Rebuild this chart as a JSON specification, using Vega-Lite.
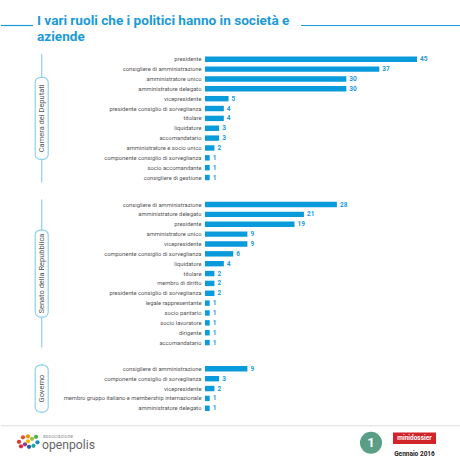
{
  "$schema": "https://vega.github.io/schema/vega-lite/v6.json",
  "background": "white",
  "padding": 0,
  "bounds": "flush",
  "config": {"view": {"stroke": null}},
  "datasets": {
    "camera": [
      {"ruolo": "presidente", "n": 45},
      {"ruolo": "consigliere di amministrazione", "n": 37},
      {"ruolo": "amministratore unico", "n": 30},
      {"ruolo": "amministratore delegato", "n": 30},
      {"ruolo": "vicepresidente", "n": 5},
      {"ruolo": "presidente consiglio di sorveglianza", "n": 4},
      {"ruolo": "titolare", "n": 4},
      {"ruolo": "liquidatore", "n": 3},
      {"ruolo": "accomandatario", "n": 3},
      {"ruolo": "amministratore e socio unico", "n": 2},
      {"ruolo": "componente consiglio di sorveglianza", "n": 1},
      {"ruolo": "socio accomandante", "n": 1},
      {"ruolo": "consigliere di gestione", "n": 1}
    ],
    "senato": [
      {"ruolo": "consigliere di amministrazione", "n": 28},
      {"ruolo": "amministratore delegato", "n": 21},
      {"ruolo": "presidente", "n": 19},
      {"ruolo": "amministratore unico", "n": 9},
      {"ruolo": "vicepresidente", "n": 9},
      {"ruolo": "componente consiglio di sorveglianza", "n": 6},
      {"ruolo": "liquidatore", "n": 4},
      {"ruolo": "titolare", "n": 2},
      {"ruolo": "membro di diritto", "n": 2},
      {"ruolo": "presidente consiglio di sorveglianza", "n": 2},
      {"ruolo": "legale rappresentante", "n": 1},
      {"ruolo": "socio paritario", "n": 1},
      {"ruolo": "socio lavoratore", "n": 1},
      {"ruolo": "dirigente", "n": 1},
      {"ruolo": "accomandatario", "n": 1}
    ],
    "governo": [
      {"ruolo": "consigliere di amministrazione", "n": 9},
      {"ruolo": "componente consiglio di sorveglianza", "n": 3},
      {"ruolo": "vicepresidente", "n": 2},
      {"ruolo": "membro gruppo italiano e membership internazionale", "n": 1},
      {"ruolo": "amministratore delegato", "n": 1}
    ]
  },
  "vconcat": [
    {
      "width": 460,
      "height": 37.8,
      "data": {"values": [{}]},
      "encoding": {
        "x": {"type": "quantitative", "scale": {"domain": [0, 460], "nice": false}, "axis": null},
        "y": {"type": "quantitative", "scale": {"domain": [0, 37.8], "reverse": true, "nice": false}, "axis": null}
      },
      "layer": [
        {"mark": {"type": "rule", "color": "#1b9ad8", "strokeWidth": 1.2}, "encoding": {"x": {"datum": 0}, "x2": {"datum": 32}, "y": {"datum": 25.5}}},
        {"mark": {"type": "rule", "color": "#1b9ad8", "strokeWidth": 1.2}, "encoding": {"x": {"datum": 300}, "x2": {"datum": 460}, "y": {"datum": 25.5}}},
        {"mark": {"type": "text", "text": "I vari ruoli che i politici hanno in società e", "align": "left", "baseline": "alphabetic", "font": "Roboto", "fontSize": 13.6, "fontWeight": "bold", "color": "#1b9ad8"}, "encoding": {"x": {"datum": 36}, "y": {"datum": 25}}},
        {"mark": {"type": "text", "text": "aziende", "align": "left", "baseline": "alphabetic", "font": "Roboto", "fontSize": 13.6, "fontWeight": "bold", "color": "#1b9ad8"}, "encoding": {"x": {"datum": 36}, "y": {"datum": 40.7}}}
      ]
    },
    {
      "width": 460,
      "height": {"step": 9.86},
      "layer": [
        {
          "data": {"values": [{}]},
          "mark": {"type": "rule", "color": "#8ed1f1", "strokeWidth": 1.2},
          "encoding": {"x": {"datum": -34.66, "type": "quantitative", "scale": {"domain": [-43.3, 54.34], "nice": false, "zero": false}, "axis": null}}
        },
        {
          "data": {"values": [{}]},
          "mark": {"type": "point", "shape": "M-0.1585,-0.878 A0.122,0.122 0 0 1 -0.0365,-1 L0.0365,-1 A0.122,0.122 0 0 1 0.1585,-0.878 L0.1585,0.878 A0.122,0.122 0 0 1 0.0365,1 L-0.0365,1 A0.122,0.122 0 0 1 -0.1585,0.878 Z", "size": 6724, "filled": true, "fill": "white", "stroke": "#8ed1f1", "strokeWidth": 1.2, "opacity": 1},
          "encoding": {"x": {"datum": -34.66, "type": "quantitative", "scale": {"domain": [-43.3, 54.34], "nice": false, "zero": false}, "axis": null}}
        },
        {
          "data": {"values": [{"gruppo": "Camera  dei Deputati"}]},
          "mark": {"type": "text", "angle": 270, "font": "Roboto", "fontSize": 7.5, "color": "#555555", "baseline": "middle"},
          "encoding": {
            "x": {"datum": -34.66, "type": "quantitative", "scale": {"domain": [-43.3, 54.34], "nice": false, "zero": false}, "axis": null},
            "text": {"field": "gruppo"}
          }
        },
        {
          "data": {"name": "camera"},
          "mark": {"type": "bar", "color": "#0a9bdc"},
          "encoding": {
            "y": {"field": "ruolo", "type": "nominal", "sort": null, "scale": {"paddingInner": 0.45}, "axis": {"title": null, "orient": "left", "offset": -204, "domain": false, "ticks": false, "labelPadding": 4, "labelFont": "Roboto", "labelFontSize": 5.8, "labelColor": "#555555", "labelLimit": 300}},
            "x": {"field": "n", "type": "quantitative", "scale": {"domain": [-43.3, 54.34], "nice": false, "zero": false}, "axis": null}
          }
        },
        {
          "data": {"name": "camera"},
          "mark": {"type": "text", "align": "left", "baseline": "middle", "dx": 3, "font": "Roboto", "fontSize": 6.5, "fontWeight": "bold", "color": "#1b9ad8"},
          "encoding": {
            "y": {"field": "ruolo", "type": "nominal", "sort": null},
            "x": {"field": "n", "type": "quantitative", "scale": {"domain": [-43.3, 54.34], "nice": false, "zero": false}, "axis": null},
            "text": {"field": "n", "type": "quantitative"}
          }
        }
      ]
    },
    {
      "width": 460,
      "height": {"step": 9.86},
      "layer": [
        {
          "data": {"values": [{}]},
          "mark": {"type": "rule", "color": "#8ed1f1", "strokeWidth": 1.2},
          "encoding": {"x": {"datum": -34.66, "type": "quantitative", "scale": {"domain": [-43.3, 54.34], "nice": false, "zero": false}, "axis": null}}
        },
        {
          "data": {"values": [{}]},
          "mark": {"type": "point", "shape": "M-0.1494,-0.885 A0.115,0.115 0 0 1 -0.0344,-1 L0.0344,-1 A0.115,0.115 0 0 1 0.1494,-0.885 L0.1494,0.885 A0.115,0.115 0 0 1 0.0344,1 L-0.0344,1 A0.115,0.115 0 0 1 -0.1494,0.885 Z", "size": 7569, "filled": true, "fill": "white", "stroke": "#8ed1f1", "strokeWidth": 1.2, "opacity": 1},
          "encoding": {"x": {"datum": -34.66, "type": "quantitative", "scale": {"domain": [-43.3, 54.34], "nice": false, "zero": false}, "axis": null}}
        },
        {
          "data": {"values": [{"gruppo": "Senato della Repubblica"}]},
          "mark": {"type": "text", "angle": 270, "font": "Roboto", "fontSize": 7.5, "color": "#555555", "baseline": "middle"},
          "encoding": {
            "x": {"datum": -34.66, "type": "quantitative", "scale": {"domain": [-43.3, 54.34], "nice": false, "zero": false}, "axis": null},
            "text": {"field": "gruppo"}
          }
        },
        {
          "data": {"name": "senato"},
          "mark": {"type": "bar", "color": "#0a9bdc"},
          "encoding": {
            "y": {"field": "ruolo", "type": "nominal", "sort": null, "scale": {"paddingInner": 0.45}, "axis": {"title": null, "orient": "left", "offset": -204, "domain": false, "ticks": false, "labelPadding": 4, "labelFont": "Roboto", "labelFontSize": 5.8, "labelColor": "#555555", "labelLimit": 300}},
            "x": {"field": "n", "type": "quantitative", "scale": {"domain": [-43.3, 54.34], "nice": false, "zero": false}, "axis": null}
          }
        },
        {
          "data": {"name": "senato"},
          "mark": {"type": "text", "align": "left", "baseline": "middle", "dx": 3, "font": "Roboto", "fontSize": 6.5, "fontWeight": "bold", "color": "#1b9ad8"},
          "encoding": {
            "y": {"field": "ruolo", "type": "nominal", "sort": null},
            "x": {"field": "n", "type": "quantitative", "scale": {"domain": [-43.3, 54.34], "nice": false, "zero": false}, "axis": null},
            "text": {"field": "n", "type": "quantitative"}
          }
        }
      ]
    },
    {
      "width": 460,
      "height": {"step": 9.86},
      "layer": [
        {
          "data": {"values": [{}]},
          "mark": {"type": "rule", "color": "#8ed1f1", "strokeWidth": 1.2},
          "encoding": {"x": {"datum": -34.66, "type": "quantitative", "scale": {"domain": [-43.3, 54.34], "nice": false, "zero": false}, "axis": null}}
        },
        {
          "data": {"values": [{}]},
          "mark": {"type": "point", "shape": "M-0.2766,-0.787 A0.2128,0.2128 0 0 1 -0.0638,-1 L0.0638,-1 A0.2128,0.2128 0 0 1 0.2766,-0.787 L0.2766,0.787 A0.2128,0.2128 0 0 1 0.0638,1 L-0.0638,1 A0.2128,0.2128 0 0 1 -0.2766,0.787 Z", "size": 2209, "filled": true, "fill": "white", "stroke": "#8ed1f1", "strokeWidth": 1.2, "opacity": 1},
          "encoding": {"x": {"datum": -34.66, "type": "quantitative", "scale": {"domain": [-43.3, 54.34], "nice": false, "zero": false}, "axis": null}}
        },
        {
          "data": {"values": [{"gruppo": "Governo"}]},
          "mark": {"type": "text", "angle": 270, "font": "Roboto", "fontSize": 7.5, "color": "#555555", "baseline": "middle"},
          "encoding": {
            "x": {"datum": -34.66, "type": "quantitative", "scale": {"domain": [-43.3, 54.34], "nice": false, "zero": false}, "axis": null},
            "text": {"field": "gruppo"}
          }
        },
        {
          "data": {"name": "governo"},
          "mark": {"type": "bar", "color": "#0a9bdc"},
          "encoding": {
            "y": {"field": "ruolo", "type": "nominal", "sort": null, "scale": {"paddingInner": 0.45}, "axis": {"title": null, "orient": "left", "offset": -204, "domain": false, "ticks": false, "labelPadding": 4, "labelFont": "Roboto", "labelFontSize": 5.8, "labelColor": "#555555", "labelLimit": 300}},
            "x": {"field": "n", "type": "quantitative", "scale": {"domain": [-43.3, 54.34], "nice": false, "zero": false}, "axis": null}
          }
        },
        {
          "data": {"name": "governo"},
          "mark": {"type": "text", "align": "left", "baseline": "middle", "dx": 3, "font": "Roboto", "fontSize": 6.5, "fontWeight": "bold", "color": "#1b9ad8"},
          "encoding": {
            "y": {"field": "ruolo", "type": "nominal", "sort": null},
            "x": {"field": "n", "type": "quantitative", "scale": {"domain": [-43.3, 54.34], "nice": false, "zero": false}, "axis": null},
            "text": {"field": "n", "type": "quantitative"}
          }
        }
      ]
    },
    {
      "width": 460,
      "height": 31.6,
      "data": {"values": [{}]},
      "encoding": {
        "x": {"type": "quantitative", "scale": {"domain": [0, 460], "nice": false}, "axis": null},
        "y": {"type": "quantitative", "scale": {"domain": [0, 31.6], "reverse": true, "nice": false}, "axis": null}
      },
      "layer": [
        {"mark": {"type": "rule", "color": "#dddddd", "strokeWidth": 1}, "encoding": {"x": {"datum": 0}, "x2": {"datum": 460}, "y": {"datum": -4.4}}},
        {"mark": {"type": "circle", "color": "#e3342f", "size": 18, "opacity": 1}, "encoding": {"x": {"datum": 18}, "y": {"datum": 11.6}}},
        {"mark": {"type": "circle", "color": "#e8542a", "size": 18, "opacity": 1}, "encoding": {"x": {"datum": 22}, "y": {"datum": 7.1}}},
        {"mark": {"type": "circle", "color": "#f39200", "size": 18, "opacity": 1}, "encoding": {"x": {"datum": 27}, "y": {"datum": 6.1}}},
        {"mark": {"type": "circle", "color": "#a6c23a", "size": 18, "opacity": 1}, "encoding": {"x": {"datum": 31}, "y": {"datum": 8.6}}},
        {"mark": {"type": "circle", "color": "#4caf50", "size": 18, "opacity": 1}, "encoding": {"x": {"datum": 35}, "y": {"datum": 6.6}}},
        {"mark": {"type": "circle", "color": "#1e88c8", "size": 18, "opacity": 1}, "encoding": {"x": {"datum": 36.5}, "y": {"datum": 12.1}}},
        {"mark": {"type": "circle", "color": "#2aa59c", "size": 18, "opacity": 1}, "encoding": {"x": {"datum": 32.5}, "y": {"datum": 15.6}}},
        {"mark": {"type": "circle", "color": "#2c5aa0", "size": 18, "opacity": 1}, "encoding": {"x": {"datum": 28}, "y": {"datum": 16.6}}},
        {"mark": {"type": "circle", "color": "#8e3b8f", "size": 18, "opacity": 1}, "encoding": {"x": {"datum": 24}, "y": {"datum": 14.1}}},
        {"mark": {"type": "circle", "color": "#d3303a", "size": 18, "opacity": 1}, "encoding": {"x": {"datum": 20}, "y": {"datum": 16.1}}},
        {"mark": {"type": "circle", "color": "#f2b705", "size": 18, "opacity": 1}, "encoding": {"x": {"datum": 27}, "y": {"datum": 11.1}}},
        {"mark": {"type": "text", "text": "associazione", "align": "left", "baseline": "middle", "font": "Roboto", "fontSize": 5.2, "color": "#9a9a9a"}, "encoding": {"x": {"datum": 41.7}, "y": {"datum": 5.4}}},
        {"mark": {"type": "text", "text": "openpolis", "align": "left", "baseline": "alphabetic", "font": "Roboto", "fontSize": 12.2, "color": "#666666"}, "encoding": {"x": {"datum": 41}, "y": {"datum": 18.8}}},
        {"mark": {"type": "circle", "color": "#5a9e85", "size": 484, "opacity": 1}, "encoding": {"x": {"datum": 370}, "y": {"datum": 12.6}}},
        {"mark": {"type": "text", "text": "1", "align": "center", "baseline": "middle", "font": "Roboto", "fontSize": 13, "fontWeight": "bold", "color": "white"}, "encoding": {"x": {"datum": 370}, "y": {"datum": 13.1}}},
        {"mark": {"type": "rect", "color": "#d1232a"}, "encoding": {"x": {"datum": 392}, "x2": {"datum": 435}, "y": {"datum": 2.3}, "y2": {"datum": 13.9}}},
        {"mark": {"type": "text", "text": "minidossier", "align": "center", "baseline": "middle", "font": "Roboto", "fontSize": 6.5, "fontWeight": "bold", "color": "white"}, "encoding": {"x": {"datum": 413.5}, "y": {"datum": 8.2}}},
        {"mark": {"type": "text", "text": "Gennaio 2016", "align": "center", "baseline": "middle", "font": "Roboto", "fontSize": 6.5, "fontWeight": "bold", "color": "#222222"}, "encoding": {"x": {"datum": 413.5}, "y": {"datum": 23.6}}}
      ]
    }
  ],
  "spacing": 16.3
}
